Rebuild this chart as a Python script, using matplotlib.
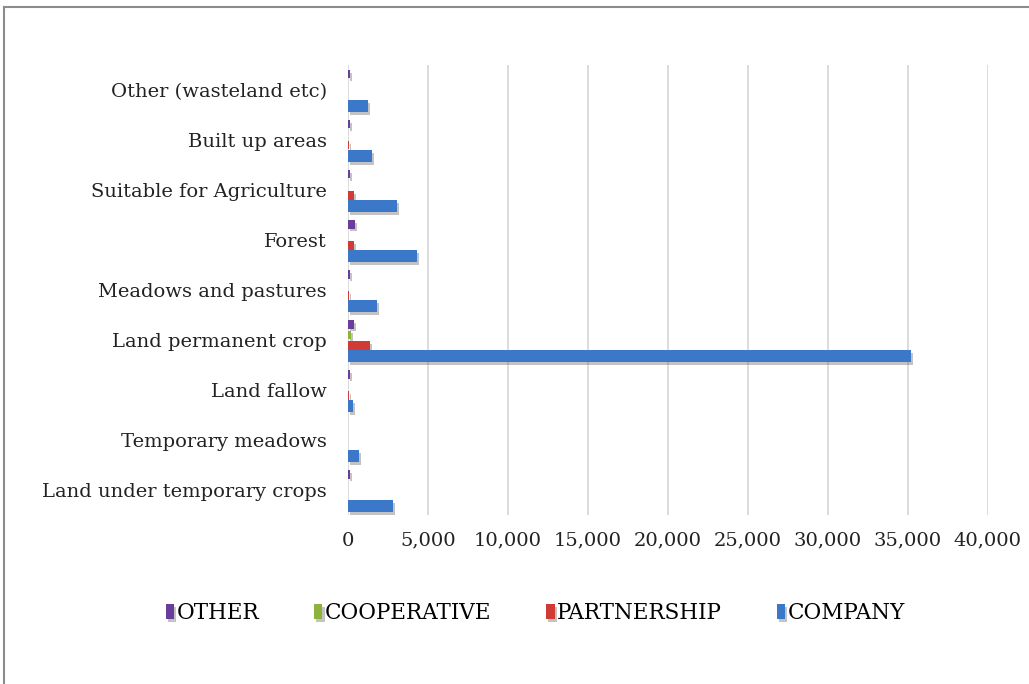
"""Land use by holder type — horizontal clustered bars."""

import matplotlib.pyplot as plt
import matplotlib.patheffects as pe
from matplotlib.lines import Line2D
from matplotlib.ticker import FuncFormatter
import numpy as np

plt.rcParams["font.family"] = ["DejaVu Serif"]

# bottom -> top
categories = [
    "Land under temporary crops",
    "Temporary meadows",
    "Land fallow",
    "Land permanent crop",
    "Meadows and pastures",
    "Forest",
    "Suitable for Agriculture",
    "Built up areas",
    "Other (wasteland etc)",
]
series_names = ["OTHER", "COOPERATIVE", "PARTNERSHIP", "COMPANY"]
other = [120, 0, 120, 400, 130, 450, 130, 130, 130]
cooperative = [0, 0, 0, 200, 0, 0, 0, 0, 0]
partnership = [0, 0, 100, 1400, 100, 400, 400, 100, 0]
company = [2800, 700, 300, 35200, 1800, 4300, 3100, 1500, 1250]

colors = ["#6a3d9a", "#8db43a", "#d13b36", "#3b78c9"]

fig = plt.figure(figsize=(10.29, 6.84), dpi=100)
ax = fig.add_axes([0.338, 0.247, 0.622, 0.658])

y = np.arange(len(categories))
offsets = [0.315, 0.105, -0.105, -0.315]
heights = [0.17, 0.17, 0.17, 0.24]
shadow = [pe.SimplePatchShadow(offset=(1.5, -2), shadow_rgbFace="#555555", alpha=0.35),
          pe.Normal()]
for vals, off, h, c, name in zip([other, cooperative, partnership, company],
                                 offsets, heights, colors, series_names):
    bars = ax.barh(y + off, vals, height=h, color=c, label=name, zorder=3)
    for b in bars:
        b.set_path_effects(shadow)

ax.set_ylim(-0.5, len(categories) - 0.5)
ax.set_xlim(0, 40000)
ax.set_xticks(np.arange(0, 40001, 5000))
ax.xaxis.set_major_formatter(FuncFormatter(lambda v, p: f"{int(v):,}"))
ax.set_yticks(y)
ax.set_yticklabels(categories)
ax.tick_params(axis="both", length=0, labelsize=14, colors="#222222")
ax.tick_params(axis="x", pad=12)
ax.tick_params(axis="y", pad=15)
ax.grid(axis="x", color="#d9d9d9", lw=1.3, zorder=0)
for s in ax.spines.values():
    s.set_visible(False)

handles, labels = ax.get_legend_handles_labels()
leg = fig.legend(handles, labels, loc="center", bbox_to_anchor=(0.52, 0.104),
                 ncol=4, frameon=False, fontsize=15.5, handlelength=0.4,
                 handleheight=0.7, handletextpad=0.1, columnspacing=2.55)

# outer frame (top and left edges only)
fig.add_artist(Line2D([0.004, 1.0], [0.99, 0.99], color="#8c8c8c", lw=1.5,
                      transform=fig.transFigure))
fig.add_artist(Line2D([0.004, 0.004], [0.0, 0.99], color="#8c8c8c", lw=1.5,
                      transform=fig.transFigure))

fig.savefig("out.png", dpi=100)
